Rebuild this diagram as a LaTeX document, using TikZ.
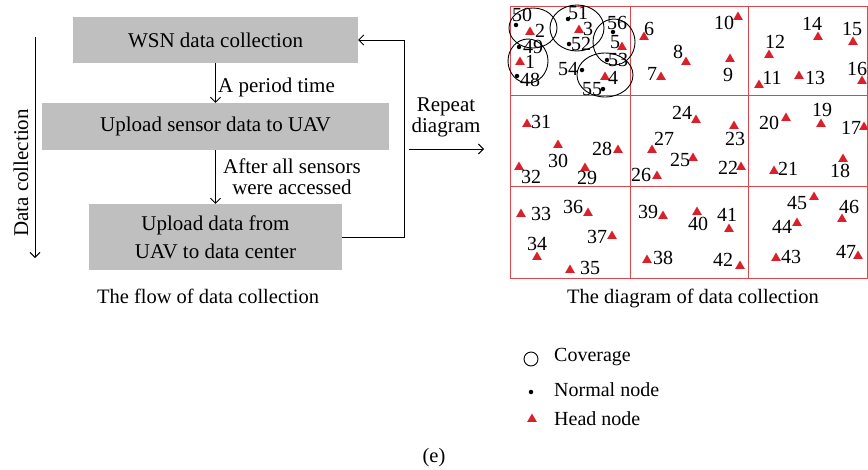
\documentclass[tikz,border=0pt]{standalone}
\usepackage{fontspec}
\setmainfont{Liberation Serif}
\usetikzlibrary{arrows.meta, shapes.geometric, positioning, calc}
\definecolor{boxgray}{RGB}{191,191,191}
\definecolor{gridred}{RGB}{222,70,78}
\definecolor{headred}{RGB}{218,32,42}
\tikzset{
  fl/.style = {fill=boxgray, inner sep=0pt, align=center,
    font=\fontsize{21}{28}\selectfont},
  flseta/.style = {-{Straight Barb[length=5pt, width=10pt]}, line width=0.9pt},
  flrot/.style = {font=\fontsize{21}{21}\selectfont, inner sep=0pt, align=center},
  capt/.style = {font=\fontsize{20.5}{22}\selectfont, inner sep=0pt}
}
\tikzset{
  grd/.style = {draw=gridred, line width=1pt},
  cov/.style = {draw=black, line width=0.9pt},
  hd/.style = {regular polygon, regular polygon sides=3, fill=headred,
    inner sep=0pt, minimum size=11pt},
  nm/.style = {circle, fill=black, inner sep=0pt, minimum size=4.5pt},
  nl/.style = {font=\fontsize{20}{20}\selectfont, inner sep=0pt},
  lg/.style = {font=\fontsize{20}{22}\selectfont, inner sep=0pt, anchor=west}
}

\begin{document}
\begin{tikzpicture}[x=1pt, y=-1pt]
  \useasboundingbox (0,0) rectangle (868,469);
  % flow of data collection
  \node [fl, minimum width=285pt, minimum height=46pt] (b1) at (215.5,40) {WSN data collection};
  \node [fl, minimum width=347pt, minimum height=47pt] (b2) at (215.5,126.5) {Upload sensor data to UAV};
  \node [fl, minimum width=253pt, minimum height=66pt] (b3) at (215.5,237) {Upload data from\\UAV to data center};
  \draw [flseta] (b1.south) -- (b2.north);
  \draw [flseta] (b2.south) -- (b3.north);
  \node [flrot, anchor=west] (l1) at (218,87) {A period time};
  \node [flrot] (l2) at (292,177) {After all sensors\\were accessed};
  \draw [flseta] (b3.east) -- ++(62,0) |- (b1.east);
  \coordinate (dc1) at (35,37);
  \coordinate (dc2) at (35,258);
  \draw [flseta] (dc1) -- (dc2);
  \node [flrot, rotate=90] (dcl) at (21,173) {Data collection};
  \node [capt] (cap1) at (208,296) {The flow of data collection};
  % repeat
  \node [flrot] (rp) at (446,117) {Repeat\\diagram};
  \coordinate (rp1) at (409,149);
  \coordinate (rp2) at (484,149);
  \draw [flseta] (rp1) -- (rp2);
  % grid of clusters
  \draw [grd] (510,6) rectangle (867,278);
  \foreach \x in {630, 748} \draw [grd] (\x,6) -- (\x,278);
  \foreach \y in {95, 186} \draw [grd] (510,\y) -- (867,\y);
  % coverage of the first cluster
  \draw [cov] (533,28) ellipse [x radius=24, y radius=20];
  \draw [cov] (577,28) ellipse [x radius=27, y radius=23];
  \draw [cov] (528,61) ellipse [x radius=20, y radius=22];
  \draw [cov] (614,42) ellipse [x radius=21, y radius=23];
  \draw [cov] (605,75) ellipse [x radius=28, y radius=22];
  % head nodes
  \foreach \n/\tx/\ty/\lx/\ly in {
    1/520/62/530/62, 2/530/32/540/31, 3/579/30/588/28.5, 4/605/77/613/78,
    5/622/47/615/42, 6/644/37/649/29, 7/661/77/652/74, 8/686/62/678/52,
    9/730/59/728/75, 10/738/17/724/23, 11/759/85/772/78, 12/769/55/775/42,
    13/799/76/815/78, 14/818/37/812/24, 15/853/42/852/29, 16/862/81/857/69,
    17/864/127/851/128, 18/843/159/840/171, 19/821/124/822/110, 20/786/118/769/123,
    21/774/171/788/169, 22/741/167/728/168, 23/734/126/735/139, 24/696/120/682/113,
    25/693/158/680/160, 26/657/176/641/175, 27/652/150/664/139, 28/618/150/602/149,
    29/585/168/587/178, 30/558/145/558/161, 31/527/124/541/122, 32/519/167/531/177,
    33/521/214/541/214, 34/537/257/537/244, 35/570/270/590/268, 36/588/213/573/207,
    37/612/236/597/237, 38/647/260/663/258, 39/663/216/648/212, 40/697/212/698/224,
    41/729/229/727/215, 42/740/266/723/260, 43/776/258/791/257, 44/797/223/782/227,
    45/814/197/797/203, 46/842/219/849/207, 47/858/256/846/252} {
    \node [hd] (h\n) at (\tx,\ty) {};
    \node [nl] (t\n) at (\lx,\ly) {\n};
  }
  % normal nodes
  \foreach \n/\tx/\ty/\lx/\ly in {
    48/517/76/530/80, 49/519/47/533/46.5, 50/516/25/522/15, 51/568/19/578/13,
    52/569/44/581/44, 53/607/60/618/60, 54/582/70/568/69, 55/603/89/592/89,
    56/613/32/617/23} {
    \node [nm] (n\n) at (\tx,\ty) {};
    \node [nl] (t\n) at (\lx,\ly) {\n};
  }
  \node [capt] (cap2) at (693,298) {The diagram of data collection};
  % legend
  \node [cov, circle, minimum size=14pt, inner sep=0pt] (kc) at (531,359) {};
  \node [nm] (kn) at (531,392) {};
  \node [hd] (kh) at (532,419) {};
  \node [lg] (kct) at (554,357) {Coverage};
  \node [lg] (knt) at (554,390) {Normal node};
  \node [lg] (kht) at (554,419) {Head node};
  \node [capt] (sub) at (434,458) {(e)};
\end{tikzpicture}
\end{document}
